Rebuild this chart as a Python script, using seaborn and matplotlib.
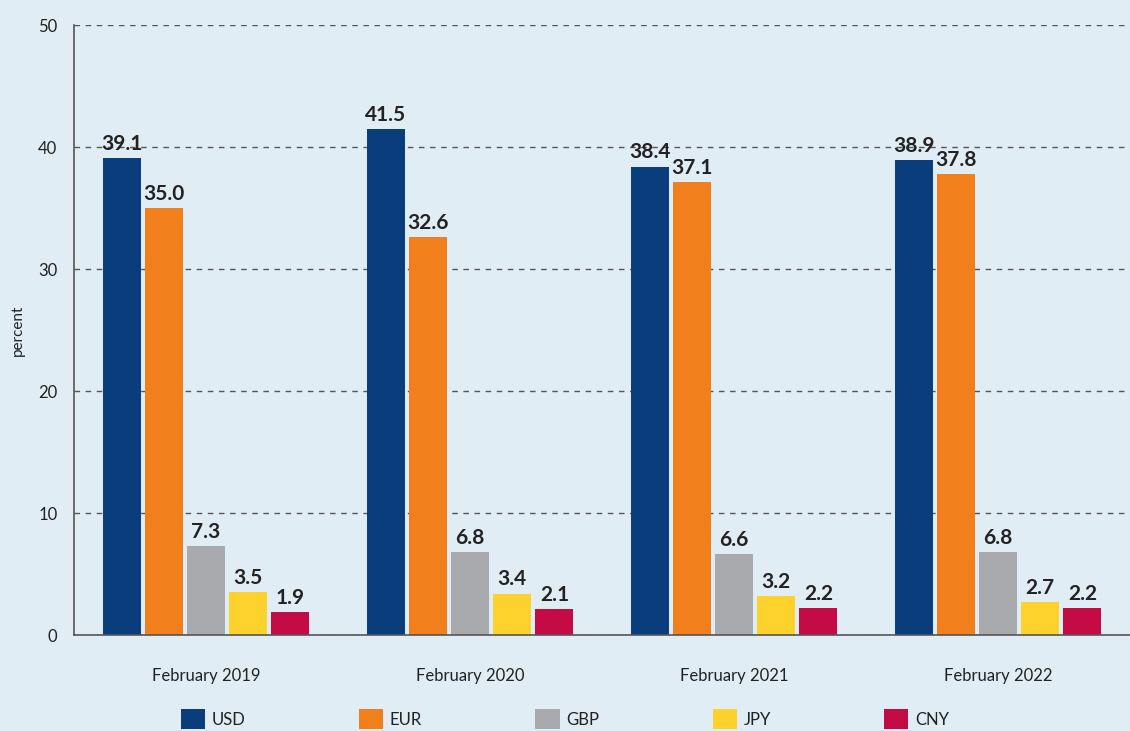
import matplotlib
matplotlib.use("Agg")
import matplotlib.pyplot as plt
import seaborn as sns
import pandas as pd
from matplotlib.patches import Patch

periods = ["February 2019", "February 2020", "February 2021", "February 2022"]
currencies = ["USD", "EUR", "GBP", "JPY", "CNY"]
usd = [39.1, 41.5, 38.4, 38.9]
eur = [35.0, 32.6, 37.1, 37.8]
gbp = [7.3, 6.8, 6.6, 6.8]
jpy = [3.5, 3.4, 3.2, 2.7]
cny = [1.9, 2.1, 2.2, 2.2]
colors = ["#0a3d7c", "#f07f1c", "#a9aaad", "#fdd22c", "#c50b45"]

series = {"USD": usd, "EUR": eur, "GBP": gbp, "JPY": jpy, "CNY": cny}
rows = []
for cur in currencies:
    for p, v in zip(periods, series[cur]):
        rows.append({"period": p, "currency": cur, "value": v})
df = pd.DataFrame(rows)

bg = "#e1edf5"
sns.set_theme(style="white")
plt.rcParams["font.family"] = ["Lato", "DejaVu Sans"]

fig = plt.figure(figsize=(11.3, 7.31), dpi=100, facecolor=bg)
ax = fig.add_axes([0.0655, 0.1313, 0.9345, 0.8345])
ax.set_facecolor(bg)

sns.barplot(data=df, x="period", y="value", hue="currency", order=periods,
            hue_order=currencies, palette=colors, saturation=1, width=0.8,
            gap=0.1, legend=False, ax=ax, edgecolor="none")

for c in ax.containers:
    ax.bar_label(c, fmt="%.1f", padding=3, fontsize=15, fontweight="bold",
                 color="#222222")

ax.set_ylim(0, 50)
ax.set_xlim(-0.5, 3.5)
ax.set_yticks([0, 10, 20, 30, 40, 50])
ax.yaxis.grid(True, linestyle=(0, (4, 4)), color="#555555", linewidth=1)
ax.set_axisbelow(True)
ax.tick_params(axis="y", length=0, labelsize=12, labelcolor="#222222", pad=12)
ax.tick_params(axis="x", which="major", length=0, labelsize=12,
               labelcolor="#222222", pad=24)
ax.set_xticks([0.5, 1.5, 2.5], minor=True)
ax.tick_params(axis="x", which="minor", direction="in", length=14,
               width=1, color="#555555")
for s in ["top", "right"]:
    ax.spines[s].set_visible(False)
for s in ["left", "bottom"]:
    ax.spines[s].set_color("#555555")
    ax.spines[s].set_linewidth(1.2)
ax.set_xlabel("")
ax.set_ylabel("percent", fontsize=11, color="#222222")
ax.yaxis.set_label_coords(-0.047, 0.5)

handles = [Patch(facecolor=c, edgecolor="none") for c in colors]
fig.legend(handles, currencies, loc="lower center", ncol=5,
           bbox_to_anchor=(0.5, -0.018), frameon=False, fontsize=12,
           handlelength=1.45, handleheight=1.45, handletextpad=0.4,
           columnspacing=6.8, labelcolor="#222222")

fig.savefig("out.png", dpi=100, facecolor=bg)
